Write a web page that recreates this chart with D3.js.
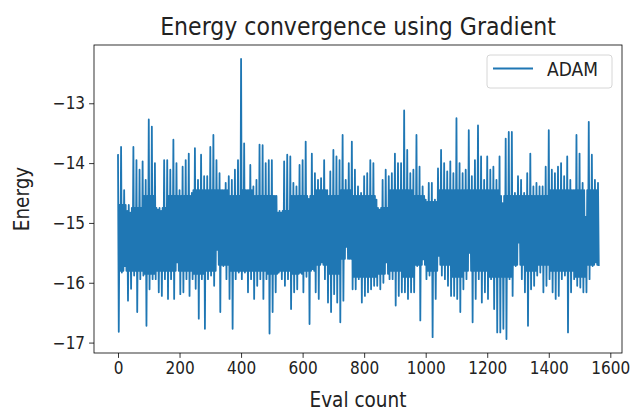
<!DOCTYPE html>
<html>
<head>
<meta charset="utf-8">
<script src="https://cdn.jsdelivr.net/npm/d3@7"></script>
<style>
  body { margin: 0; background: #fff; }
  text { font-family: "DejaVu Sans Condensed", "DejaVu Sans", sans-serif; font-stretch: condensed; fill: #222; }
</style>
</head>
<body>
<svg id="chart" width="634" height="412"></svg>
<script>
// eval counts where the upper / lower swing of the trace was read (every 10 evals)
const evalCounts = d3.range(0, 1561, 10);

// upper swing of the ADAM energy trace
const highs = [
  -13.85, -13.73, -14.45, -14.80, -14.83, -13.73, -13.95, -14.11, -13.97, -14.28,
  -13.27, -13.39, -14.00, -14.78, -14.80, -13.95, -13.95, -14.11, -13.61, -14.00,
  -14.45, -14.06, -13.95, -13.84, -14.50, -13.75, -14.28, -13.86, -14.22, -14.22,
  -13.73, -13.53, -13.95, -14.17, -14.45, -14.33, -14.22, -14.28, -14.11, -13.95,
  -12.26, -13.67, -14.45, -14.03, -14.39, -14.28, -13.69, -13.70, -14.00, -13.95,
  -13.95, -14.55, -14.83, -14.83, -13.97, -13.86, -13.89, -14.33, -14.39, -14.03,
  -13.95, -13.64, -14.60, -13.84, -14.17, -14.28, -14.25, -13.95, -14.45, -14.14,
  -13.78, -13.89, -13.95, -13.53, -14.28, -14.00, -13.64, -14.11, -14.39, -14.50,
  -14.22, -14.17, -13.95, -14.00, -14.61, -14.78, -14.28, -14.11, -14.22, -14.17,
  -13.84, -14.00, -14.00, -13.12, -13.78, -14.17, -14.11, -13.53, -14.06, -14.39,
  -14.61, -14.33, -14.33, -14.61, -14.09, -13.78, -14.00, -14.14, -13.97, -14.17,
  -13.25, -14.00, -14.17, -14.11, -13.45, -14.22, -13.95, -13.37, -13.89, -14.28,
  -13.89, -14.11, -14.06, -14.28, -13.89, -14.67, -13.59, -13.48, -13.48, -14.50,
  -14.22, -14.28, -14.50, -14.17, -13.84, -14.39, -14.33, -14.39, -14.39, -14.06,
  -13.45, -14.11, -14.17, -14.06, -14.00, -14.22, -13.89, -14.28, -14.45, -13.53,
  -13.84, -14.33, -14.90, -13.31, -13.86, -14.28, -14.33
];

// lower swing of the ADAM energy trace
const lows = [
  -16.82, -15.83, -15.72, -16.30, -16.10, -15.88, -16.49, -15.94, -15.88, -16.72,
  -16.11, -15.94, -15.94, -16.16, -16.22, -15.94, -16.27, -15.94, -16.27, -15.66,
  -16.19, -16.16, -15.94, -16.22, -15.94, -16.10, -16.60, -15.94, -16.77, -15.94,
  -15.88, -16.05, -15.45, -16.49, -15.72, -15.94, -16.27, -16.77, -15.94, -15.83,
  -15.94, -15.83, -16.16, -15.94, -16.27, -16.05, -15.94, -16.27, -15.94, -16.85,
  -16.49, -16.16, -15.83, -15.94, -16.05, -15.94, -16.44, -16.16, -16.11, -15.83,
  -16.16, -15.90, -16.69, -15.77, -16.16, -16.27, -15.66, -15.94, -16.33, -16.49,
  -16.19, -16.33, -16.66, -16.30, -15.40, -15.60, -16.11, -16.11, -15.94, -16.33,
  -16.22, -16.16, -16.11, -16.05, -16.05, -16.11, -16.00, -15.66, -15.94, -15.94,
  -16.38, -16.22, -16.16, -16.16, -16.27, -16.16, -16.16, -15.72, -16.63, -15.61,
  -15.94, -15.88, -16.91, -16.27, -15.55, -15.88, -15.94, -16.05, -16.22, -16.22,
  -16.27, -16.49, -16.11, -15.94, -15.50, -16.66, -16.27, -15.94, -16.33, -16.16,
  -16.27, -15.94, -16.44, -16.83, -16.83, -16.77, -16.94, -15.94, -16.22, -15.72,
  -15.33, -15.94, -16.16, -16.72, -16.11, -16.05, -15.88, -15.83, -16.16, -16.05,
  -15.94, -16.16, -16.27, -16.22, -15.94, -15.88, -16.83, -16.16, -15.94, -16.05,
  -16.08, -16.16, -16.16, -15.94, -15.72, -15.66, -15.72
];

// edges of the solid core band, read every 40 evals
const coreTop = [
  -14.70, -14.75, -14.55, -14.75, -14.55, -14.55, -14.45, -14.45, -14.45, -14.55,
  -14.45, -14.55, -14.55, -14.80, -14.55, -14.55, -14.45, -14.55, -14.45, -14.55,
  -14.55, -14.75, -14.45, -14.45, -14.55, -14.65, -14.45, -14.45, -14.45, -14.45,
  -14.45, -14.55, -14.55, -14.55, -14.55, -14.45, -14.45, -14.45, -14.45, -14.45
];
const coreBottom = [
  -15.80, -15.80, -15.85, -15.80, -15.80, -15.80, -15.85, -15.80, -15.70, -15.80,
  -15.80, -15.80, -15.85, -15.80, -15.85, -15.80, -15.70, -15.85, -15.60, -15.90,
  -15.90, -15.85, -15.80, -15.90, -15.70, -15.80, -15.70, -15.90, -15.80, -15.80,
  -15.90, -15.90, -15.70, -15.80, -15.70, -15.80, -15.80, -15.90, -15.70, -15.70
];

const xTicks = [0, 200, 400, 600, 800, 1000, 1200, 1400, 1600];
const yTicks = [-13, -14, -15, -16, -17];

// trace swings high, low, then through the core band, every 10 evals
const trace = [];
evalCounts.forEach((ev, i) => {
  const c = Math.floor(ev / 40);
  trace.push({ x: ev, y: highs[i] });
  trace.push({ x: ev + 2.5, y: lows[i] });
  if (ev < 1560) {
    trace.push({ x: ev + 5, y: coreTop[c] });
    trace.push({ x: ev + 7.5, y: coreBottom[c] });
  }
});

const svg = d3.select('#chart');
const margin = { top: 45, right: 12, bottom: 59, left: 94 };
const width = 634, height = 412;

// matplotlib-style 5% padding around the data
const xExt = d3.extent(evalCounts);
const yExt = [d3.min(lows), d3.max(highs)];
const xPad = (xExt[1] - xExt[0]) * 0.05;
const yPad = (yExt[1] - yExt[0]) * 0.05;

const xScale = d3.scaleLinear()
  .domain([xExt[0] - xPad, xExt[1] + xPad])
  .range([margin.left, width - margin.right]);

const yScale = d3.scaleLinear()
  .domain([yExt[0] - yPad, yExt[1] + yPad])
  .range([height - margin.bottom, margin.top]);

const line = d3.line()
  .x(d => xScale(d.x))
  .y(d => yScale(d.y));

svg.append('path')
  .datum(trace)
  .attr('fill', 'none')
  .attr('stroke', '#1f77b4')
  .attr('stroke-width', 1.8)
  .attr('stroke-linejoin', 'round')
  .attr('d', line);

// frame
svg.append('rect')
  .attr('x', margin.left)
  .attr('y', margin.top)
  .attr('width', width - margin.left - margin.right)
  .attr('height', height - margin.top - margin.bottom)
  .attr('fill', 'none')
  .attr('stroke', '#000')
  .attr('stroke-width', 0.8);

const xAxis = svg.append('g')
  .attr('transform', `translate(0,${height - margin.bottom})`)
  .call(d3.axisBottom(xScale).tickValues(xTicks).tickSize(4.9).tickPadding(4).tickFormat(d3.format('d')));

const yAxis = svg.append('g')
  .attr('transform', `translate(${margin.left},0)`)
  .call(d3.axisLeft(yScale).tickValues(yTicks).tickSize(4.9).tickPadding(4).tickFormat(d3.format('d')));

[xAxis, yAxis].forEach(g => {
  g.select('.domain').remove();
  g.selectAll('.tick line').attr('stroke', '#000').attr('stroke-width', 0.8);
  g.selectAll('.tick text')
    .attr('font-size', 17)
    .attr('font-family', '"DejaVu Sans Condensed", "DejaVu Sans", sans-serif')
    .attr('fill', '#222');
});

svg.append('text')
  .attr('x', (margin.left + width - margin.right) / 2)
  .attr('y', 35)
  .attr('text-anchor', 'middle')
  .attr('font-size', 24.5)
  .text('Energy convergence using Gradient');

svg.append('text')
  .attr('x', (margin.left + width - margin.right) / 2)
  .attr('y', 407)
  .attr('text-anchor', 'middle')
  .attr('font-size', 20.5)
  .text('Eval count');

svg.append('text')
  .attr('transform', `translate(29,${(margin.top + height - margin.bottom) / 2}) rotate(-90)`)
  .attr('text-anchor', 'middle')
  .attr('font-size', 20.5)
  .text('Energy');

// legend
const legend = svg.append('g');
legend.append('rect')
  .attr('x', 487).attr('y', 55)
  .attr('width', 125).attr('height', 33)
  .attr('rx', 3)
  .attr('fill', '#fff').attr('fill-opacity', 0.8)
  .attr('stroke', '#d6d6d6');
legend.append('line')
  .attr('x1', 493).attr('x2', 533)
  .attr('y1', 68.5).attr('y2', 68.5)
  .attr('stroke', '#1f77b4').attr('stroke-width', 1.8);
legend.append('text')
  .attr('x', 547).attr('y', 75.5)
  .attr('font-size', 19)
  .text('ADAM');
</script>
</body>
</html>
